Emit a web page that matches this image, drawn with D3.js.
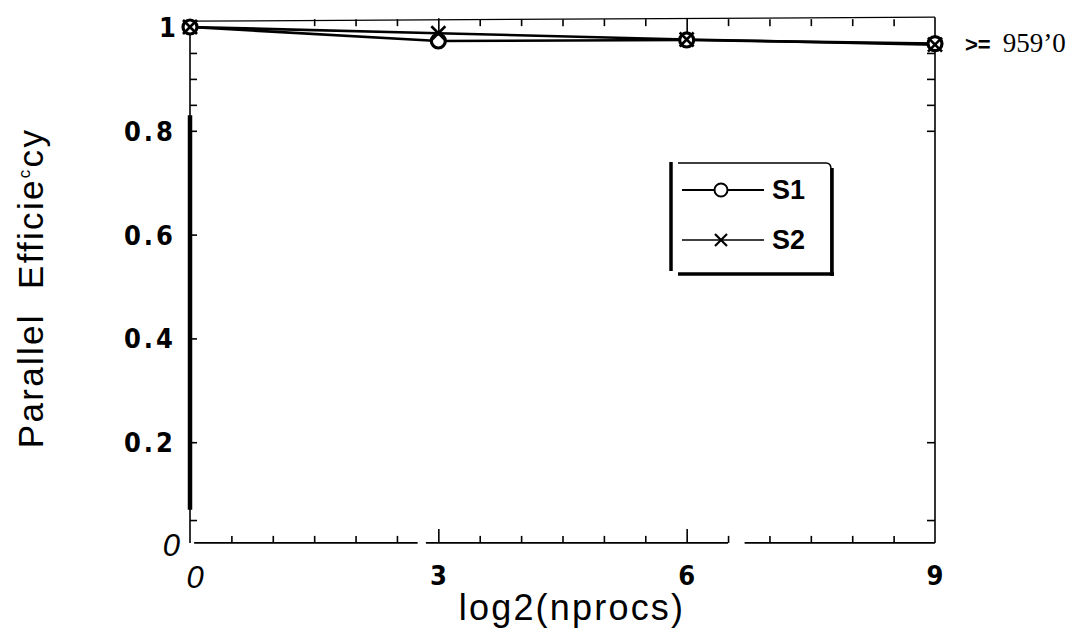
<!DOCTYPE html>
<html>
<head>
<meta charset="utf-8">
<script src="https://cdn.jsdelivr.net/npm/d3@7"></script>
<style>
  body { margin: 0; background: #fff; }
  svg { display: block; }
</style>
</head>
<body>
<div id="chart"></div>
<script>
// data
const procs = [0, 3, 6, 9];
const s1 = [1.0, 0.973, 0.975, 0.968];
const s2 = [1.0, 0.988, 0.976, 0.966];
const xTickLabels = ["0", "3", "6", "9"];
const yTicks = [0, 0.2, 0.4, 0.6, 0.8, 1];
const yTickLabels = ["0", "0.2", "0.4", "0.6", "0.8", "1"];
const seriesNames = ["S1", "S2"];

const W = 1072, H = 634;
const svg = d3.select("#chart").append("svg").attr("width", W).attr("height", H);

const x = d3.scaleLinear().domain([0, 9]).range([190, 935]);
const y = d3.scaleLinear().domain([0, 1]).range([546, 27]);

const top_y = y(1.019);
const bot_y = y(0.006);
const condensed = "'DejaVu Sans Condensed', 'DejaVu Sans', sans-serif";

// ---- frame (scan-like: thin, with a couple of breaks, heavy left side)
const frame = svg.append("g").attr("stroke", "black").attr("fill", "none");
frame.append("line").attr("x1", x(0)).attr("x2", x(9)).attr("y1", top_y + 4).attr("y2", top_y)
  .attr("stroke-width", 1.2);
frame.append("line").attr("x1", x(9)).attr("x2", x(9)).attr("y1", top_y).attr("y2", bot_y)
  .attr("stroke-width", 1.6);
// bottom with gaps
[[0.05, 2.75], [2.85, 6.5], [6.7, 9]].forEach(([a, b]) => {
  frame.append("line").attr("x1", x(a)).attr("x2", x(b)).attr("y1", bot_y).attr("y2", bot_y)
    .attr("stroke-width", 1.6);
});
frame.append("line").attr("x1", x(0)).attr("x2", x(0)).attr("y1", y(1)).attr("y2", bot_y)
  .attr("stroke-width", 1.6);
frame.append("line").attr("x1", x(0)).attr("x2", x(0)).attr("y1", y(0.83)).attr("y2", y(0.07))
  .attr("stroke-width", 4.5);

// ---- ticks via d3 axes
const xMinor = d3.range(0.5, 9, 0.5).filter((v) => v % 3 !== 0);
const yMinor = [0.05, 0.85, 0.9, 0.95];

function tickOnly(g) {
  g.select(".domain").remove();
  g.selectAll("line").attr("stroke", "black").attr("stroke-width", 1.6);
}

svg.append("g").attr("transform", `translate(0,${bot_y})`)
  .call(d3.axisBottom(x).tickValues(xMinor).tickSize(-7).tickFormat(""))
  .call(tickOnly);
svg.append("g").attr("transform", `translate(0,${bot_y})`)
  .call(d3.axisBottom(x).tickValues([3, 6]).tickSize(-14).tickFormat(""))
  .call(tickOnly);
svg.append("g").attr("transform", `translate(0,${top_y + 2})`)
  .call(d3.axisTop(x).tickValues(xMinor.filter((v) => v > 1)).tickSize(-7).tickFormat(""))
  .call(tickOnly);
svg.append("g").attr("transform", `translate(0,${top_y + 1})`)
  .call(d3.axisTop(x).tickValues([3, 6]).tickSize(-16).tickFormat(""))
  .call(tickOnly);

svg.append("g").attr("transform", `translate(${x(0)},0)`)
  .call(d3.axisLeft(y).tickValues(yMinor.concat([0.2, 0.4, 0.6, 0.8])).tickSize(-7).tickFormat(""))
  .call(tickOnly);
svg.append("g").attr("transform", `translate(${x(9)},0)`)
  .call(d3.axisRight(y).tickValues([0.05, 0.2, 0.8, 0.85, 0.9, 0.95]).tickSize(-8).tickFormat(""))
  .call(tickOnly);

// ---- tick labels
const lab = svg.append("g");
lab.selectAll(".ylab")
  .data(yTicks)
  .join("text")
  .attr("class", "ylab")
  .attr("x", (d) => (d === 0 ? 180 : 176))
  .attr("y", (d) => y(d) + 10)
  .attr("text-anchor", "end")
  .attr("font-family", (d) => (d === 0 ? "Liberation Sans" : condensed))
  .attr("font-style", (d) => (d === 0 ? "italic" : "normal"))
  .attr("font-weight", (d) => (d === 0 ? "normal" : "bold"))
  .attr("font-size", (d) => (d === 0 ? 31 : 27))
  .attr("letter-spacing", (d) => (d === 0 || d === 1 ? 0 : 3))
  .text((d, i) => yTickLabels[i]);

lab.selectAll(".xlab")
  .data(procs)
  .join("text")
  .attr("class", "xlab")
  .attr("x", (d) => x(d) + (d === 0 ? 5 : 0))
  .attr("y", (d) => (d === 0 ? 588 : 585))
  .attr("text-anchor", "middle")
  .attr("font-family", (d) => (d === 0 ? "Liberation Sans" : condensed))
  .attr("font-style", (d) => (d === 0 ? "italic" : "normal"))
  .attr("font-weight", (d) => (d === 0 ? "normal" : "bold"))
  .attr("font-size", (d) => (d === 0 ? 31 : 27))
  .text((d, i) => xTickLabels[i]);

// ---- axis titles
svg.append("text")
  .attr("x", 572).attr("y", 620)
  .attr("text-anchor", "middle")
  .attr("font-family", "Liberation Sans")
  .attr("font-size", 36)
  .attr("letter-spacing", 2.2)
  .text("log2(nprocs)");

const yt = svg.append("text")
  .attr("transform", "translate(43,288) rotate(-90)")
  .attr("text-anchor", "middle")
  .attr("font-family", "Liberation Sans")
  .attr("font-size", 35)
  .attr("letter-spacing", 2.3);
yt.append("tspan").text("Parallel\u00a0\u00a0Efficie");
yt.append("tspan").attr("font-size", 17).attr("dy", -13).text("c");
yt.append("tspan").attr("dy", 13).text("cy");

// ---- right note
const note = svg.append("text").attr("x", 965).attr("y", 52);
note.append("tspan").attr("font-family", "Liberation Sans").attr("font-weight", "bold")
  .attr("font-size", 22).text(">=");
note.append("tspan").attr("font-family", "Liberation Serif").attr("font-size", 27)
  .attr("dx", 12).text("959\u20190");

// ---- series
const seriesData = [s1, s2];
const line = d3.line().x((d) => x(d[0])).y((d) => y(d[1]));

seriesData.forEach((vals) => {
  svg.append("path")
    .datum(procs.map((p, i) => [p, vals[i]]))
    .attr("d", line)
    .attr("fill", "none")
    .attr("stroke", "black")
    .attr("stroke-width", 2.6);
});

function drawCross(g, cx, cy, r, sw) {
  g.append("line").attr("x1", cx - r).attr("x2", cx + r).attr("y1", cy - r).attr("y2", cy + r)
    .attr("stroke", "black").attr("stroke-width", sw);
  g.append("line").attr("x1", cx - r).attr("x2", cx + r).attr("y1", cy + r).attr("y2", cy - r)
    .attr("stroke", "black").attr("stroke-width", sw);
}

const marks = svg.append("g");
marks.selectAll("circle")
  .data(procs.map((p, i) => [p, s1[i]]))
  .join("circle")
  .attr("cx", (d) => x(d[0]))
  .attr("cy", (d) => y(d[1]))
  .attr("r", 7)
  .attr("fill", "white")
  .attr("stroke", "black")
  .attr("stroke-width", 3.2);
procs.forEach((p, i) => drawCross(marks, x(p), y(s2[i]), 7, 2.6));

// ---- legend
const leg = svg.append("g");
leg.append("line").attr("x1", 671).attr("x2", 671).attr("y1", 162).attr("y2", 271)
  .attr("stroke", "black").attr("stroke-width", 3.5);
leg.append("path")
  .attr("d", "M678,163 L826,163 Q831,163 831,169 L831,274 L678,274")
  .attr("fill", "none").attr("stroke", "black").attr("stroke-width", 1.5);
leg.append("line").attr("x1", 832).attr("x2", 832).attr("y1", 168).attr("y2", 276)
  .attr("stroke", "black").attr("stroke-width", 3.5);
leg.append("line").attr("x1", 678).attr("x2", 834).attr("y1", 274).attr("y2", 274)
  .attr("stroke", "black").attr("stroke-width", 3.5);

const legY = [190, 240];
seriesNames.forEach((name, i) => {
  leg.append("line").attr("x1", 682).attr("x2", 764).attr("y1", legY[i]).attr("y2", legY[i])
    .attr("stroke", "black").attr("stroke-width", i === 0 ? 2 : 1.6);
  if (i === 0) {
    leg.append("circle").attr("cx", 721).attr("cy", legY[i]).attr("r", 6.5)
      .attr("fill", "white").attr("stroke", "black").attr("stroke-width", 2);
  } else {
    drawCross(leg, 721, legY[i], 6, 2.2);
  }
  leg.append("text").attr("x", 772).attr("y", legY[i] + 9)
    .attr("font-family", "Liberation Sans").attr("font-weight", "bold")
    .attr("font-size", 27).text(name);
});
</script>
</body>
</html>
